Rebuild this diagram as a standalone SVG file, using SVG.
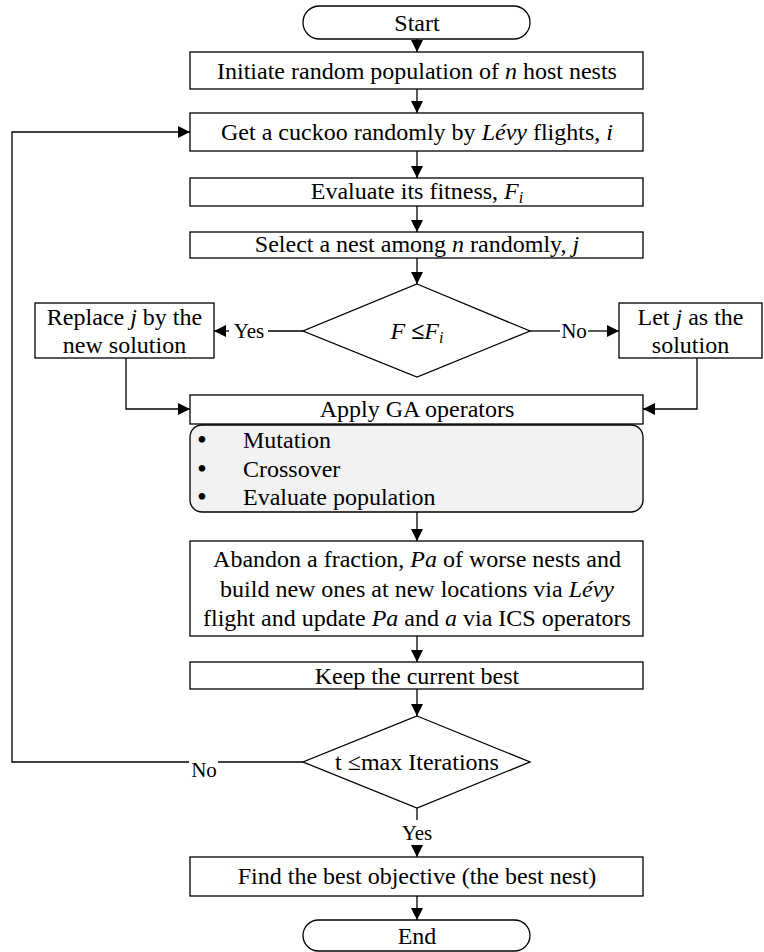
<svg xmlns="http://www.w3.org/2000/svg" width="764" height="952" viewBox="0 0 764 952" font-family="'Liberation Serif', 'Times New Roman', Times, serif">
<style>
.box{fill:#fff;stroke:#000;stroke-width:1.3}
.gray{fill:#f2f2f2;stroke:#000;stroke-width:1.3}
.ln{fill:none;stroke:#000;stroke-width:1.3}
text{font-family:'Liberation Serif','Times New Roman',Times,serif;font-size:24px;fill:#000}
.c{text-anchor:middle}
.lbl{font-size:21px}
.it{font-style:italic}
.bul{font-size:28px}
</style>
<defs>
<marker id="ah" markerUnits="userSpaceOnUse" markerWidth="13" markerHeight="13" refX="12" refY="6" orient="auto">
<path d="M0,0 L12,6 L0,12 z" fill="#000"/>
</marker>
</defs>
<rect width="764" height="952" fill="#fff"/>

<g id="connectors">
<line class="ln" x1="417" y1="39" x2="417" y2="52" marker-end="url(#ah)"/>
<line class="ln" x1="417" y1="89" x2="417" y2="113" marker-end="url(#ah)"/>
<line class="ln" x1="417" y1="151" x2="417" y2="178" marker-end="url(#ah)"/>
<line class="ln" x1="417" y1="206" x2="417" y2="232" marker-end="url(#ah)"/>
<line class="ln" x1="417" y1="258" x2="417" y2="284" marker-end="url(#ah)"/>
<line class="ln" x1="303" y1="331" x2="268" y2="331"/>
<line class="ln" x1="229" y1="331" x2="214" y2="331" marker-end="url(#ah)"/>
<text class="lbl c" x="249" y="338">Yes</text>
<line class="ln" x1="530" y1="331" x2="560" y2="331"/>
<line class="ln" x1="588" y1="331" x2="619" y2="331" marker-end="url(#ah)"/>
<text class="lbl c" x="574" y="338">No</text>
<polyline class="ln" points="126,358 126,409 190,409" marker-end="url(#ah)"/>
<polyline class="ln" points="697,358 697,409 643,409" marker-end="url(#ah)"/>
<line class="ln" x1="417" y1="512" x2="417" y2="541" marker-end="url(#ah)"/>
<line class="ln" x1="417" y1="636" x2="417" y2="662" marker-end="url(#ah)"/>
<line class="ln" x1="417" y1="689" x2="417" y2="716" marker-end="url(#ah)"/>
<line class="ln" x1="303" y1="762" x2="218" y2="762"/>
<polyline class="ln" points="189,762 12,762 12,132 190,132" marker-end="url(#ah)"/>
<text class="lbl c" x="204" y="777">No</text>
<line class="ln" x1="417" y1="808" x2="417" y2="820"/>
<text class="lbl c" x="417" y="840">Yes</text>
<line class="ln" x1="417" y1="845" x2="417" y2="857" marker-end="url(#ah)"/>
<line class="ln" x1="417" y1="896" x2="417" y2="920" marker-end="url(#ah)"/>
</g>

<g id="start">
<rect class="box" x="303" y="6" width="227" height="33" rx="16.5"/>
<text class="c" x="417" y="31">Start</text>
</g>
<g id="init">
<rect class="box" x="190" y="52" width="453" height="37"/>
<text class="c" x="417" y="79">Initiate random population of <tspan class="it">n</tspan> host nests</text>
</g>
<g id="cuckoo">
<rect class="box" x="190" y="113" width="453" height="38"/>
<text class="c" x="417" y="140">Get a cuckoo randomly by <tspan class="it">Lévy</tspan> flights, <tspan class="it">i</tspan></text>
</g>
<g id="evaluate">
<rect class="box" x="190" y="178" width="453" height="28"/>
<text class="c" x="417" y="199">Evaluate its fitness, <tspan class="it">F</tspan><tspan class="it" font-size="16" dy="4">i</tspan></text>
</g>
<g id="select">
<rect class="box" x="190" y="232" width="453" height="26"/>
<text class="c" x="417" y="252">Select a nest among <tspan class="it">n</tspan> randomly, <tspan class="it">j</tspan></text>
</g>
<g id="decision1">
<polygon class="box" points="417,284 530,331 417,377 303,331"/>
<text class="c" x="417" y="339"><tspan class="it">F</tspan> <tspan font-weight="bold">≤</tspan><tspan class="it">F</tspan><tspan class="it" font-size="16" dy="4">i</tspan></text>
</g>
<g id="replace">
<rect class="box" x="35" y="303" width="179" height="55"/>
<text class="c" x="124.5" y="325">Replace <tspan class="it">j</tspan> by the</text>
<text class="c" x="124.5" y="353">new solution</text>
</g>
<g id="let">
<rect class="box" x="619" y="303" width="143" height="55"/>
<text class="c" x="690.5" y="325">Let <tspan class="it">j</tspan> as the</text>
<text class="c" x="690.5" y="353">solution</text>
</g>
<g id="apply">
<rect class="box" x="190" y="395" width="453" height="29"/>
<text class="c" x="417" y="417">Apply GA operators</text>
</g>
<g id="ga-list">
<rect class="gray" x="190" y="425" width="453" height="87" rx="12"/>
<text class="bul" x="197" y="449">•</text><text x="243" y="448">Mutation</text>
<text class="bul" x="197" y="478">•</text><text x="243" y="477">Crossover</text>
<text class="bul" x="197" y="506">•</text><text x="243" y="505">Evaluate population</text>
</g>
<g id="abandon">
<rect class="box" x="190" y="541" width="453" height="95"/>
<text class="c" x="417" y="567">Abandon a fraction, <tspan class="it">Pa</tspan> of worse nests and</text>
<text class="c" x="417" y="597">build new ones at new locations via <tspan class="it">Lévy</tspan></text>
<text class="c" x="417" y="626">flight and update <tspan class="it">Pa</tspan> and <tspan class="it">a</tspan> via ICS operators</text>
</g>
<g id="keep">
<rect class="box" x="190" y="662" width="453" height="27"/>
<text class="c" x="417" y="684">Keep the current best</text>
</g>
<g id="decision2">
<polygon class="box" points="417,716 530,762 417,808 303,762"/>
<text class="c" x="417" y="770">t ≤max Iterations</text>
</g>
<g id="find">
<rect class="box" x="190" y="857" width="453" height="39"/>
<text class="c" x="417" y="884">Find the best objective (the best nest)</text>
</g>
<g id="end">
<rect class="box" x="303" y="920" width="227" height="31" rx="15.5"/>
<text class="c" x="417" y="944">End</text>
</g>
</svg>
